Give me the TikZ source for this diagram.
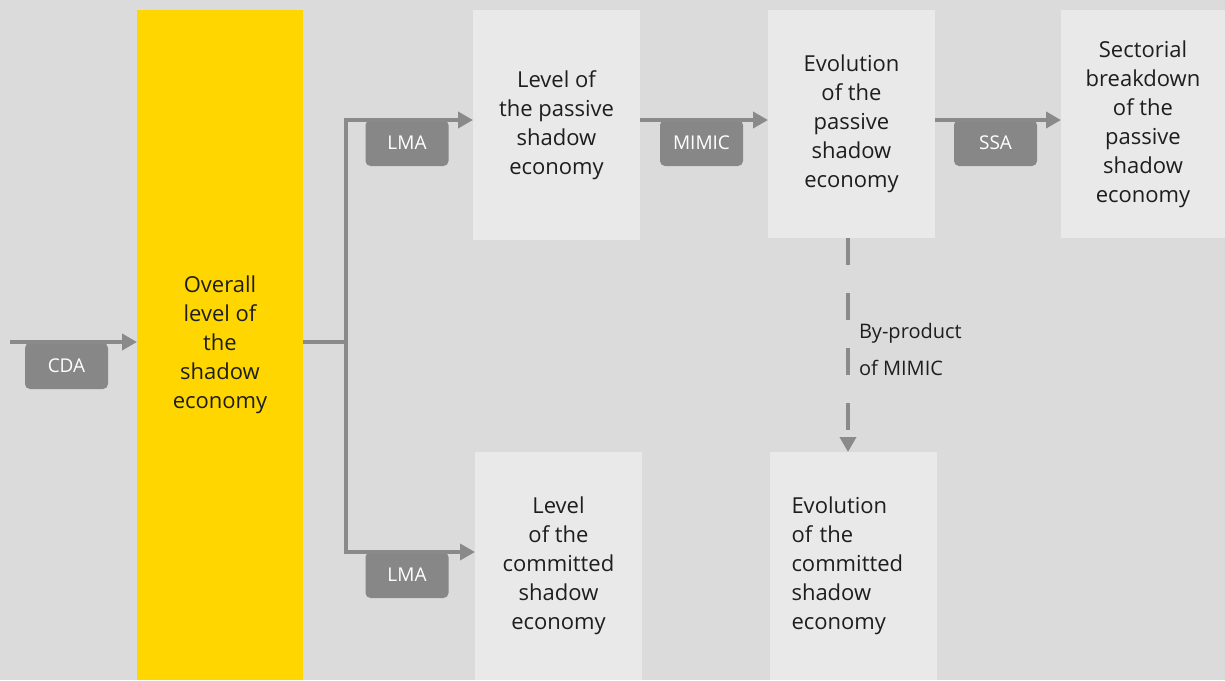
\documentclass[tikz,border=0pt]{standalone}
\usepackage{fontspec}
\setmainfont{Open Sans}
\usepackage{xcolor}
\definecolor{colorBg}{HTML}{DBDBDB}
\definecolor{colorBox}{HTML}{E9E9E9}
\definecolor{colorMain}{HTML}{FFD600}
\definecolor{colorMethod}{HTML}{878787}
\definecolor{colorFlow}{HTML}{8A8A8A}
\definecolor{colorText}{HTML}{1E1E1E}
\usepackage{tikz}
\usetikzlibrary{arrows.meta, positioning}
\tikzset{>={Triangle[length=7.5pt,width=8pt]}}

\begin{document}
\begin{tikzpicture}[x=0.5pt, y=-0.5pt,
  every node/.style={inner sep=0pt, outer sep=0pt, text=colorText},
  stage/.style={fill=colorBox, align=center, font=\fontsize{11}{14.5}\selectfont, minimum width=83.5pt, minimum height=114pt},
  method/.style={fill=colorMethod, rounded corners=2.5pt, text=white, font=\fontsize{9.5}{11}\selectfont, minimum width=41.5pt, minimum height=23pt},
  flow/.style={->, colorFlow, line width=2pt}]
\fill[colorBg] (0,0) rectangle (1225,680);
\useasboundingbox (0,0) rectangle (1225,680);
\node[stage, fill=colorMain, minimum width=83pt, minimum height=335pt] (overall) at (220,345) {Overall\\level of\\the\\shadow\\economy};
\node[stage, minimum height=115pt] (lvlP) at (556.5,125) {Level of\\the passive\\shadow\\economy};
\node[stage] (evoP) at (851.5,124) {Evolution\\of the\\passive\\shadow\\economy};
\node[stage, minimum width=82pt] (sect) at (1143,124) {Sectorial\\breakdown\\of the\\passive\\shadow\\economy};
\node[stage] (lvlC) at (558.5,566) {Level\\of the\\committed\\shadow\\economy};
\node[stage, align=left, text width=62pt] (evoC) at (853.5,566) {Evolution\\of the\\committed\\shadow\\economy};
\node[method] (cda) at (66.5,366) {CDA};
\node[method] (lmaP) at (407,143) {LMA};
\node[method] (mimic) at (701.5,143) {MIMIC};
\node[method] (ssa) at (995.5,143) {SSA};
\node[method] (lmaC) at (407,575) {LMA};
\coordinate (cdaIn) at (10,342);
\coordinate (split) at (346,342);
\draw[flow] (cdaIn) -- (cdaIn -| overall.west);
\draw[colorFlow, line width=2pt] (overall.east |- split) -- (split);
\draw[flow] (split) |- (lmaP.north -| lvlP.west);
\draw[flow] (split) |- (lmaC.north -| lvlC.west);
\draw[flow] (mimic.north -| lvlP.east) -- (mimic.north -| evoP.west);
\draw[flow] (ssa.north -| evoP.east) -- (ssa.north -| sect.west);
\draw[flow, dash pattern=on 13.5pt off 14pt] ([xshift=-1.75pt]evoP.south) -- ([xshift=-1.75pt]evoP.south |- evoC.north)
  node[pos=0.52, right, inner xsep=5.5pt, align=left, font=\fontsize{10}{18.5}\selectfont] {By-product\\of MIMIC};
\end{tikzpicture}
\end{document}
